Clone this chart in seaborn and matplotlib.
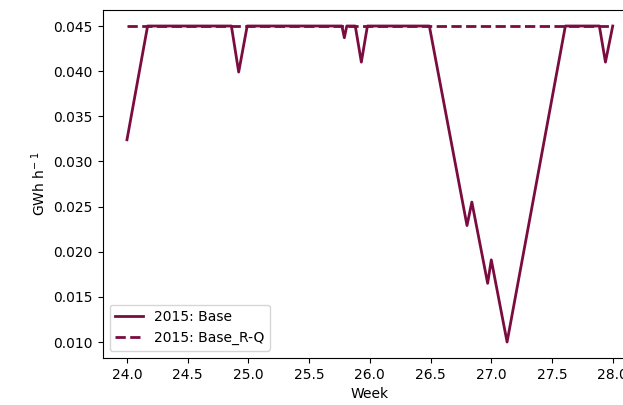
import matplotlib
matplotlib.use("Agg")
import matplotlib.pyplot as plt
import seaborn as sns
import pandas as pd

# Weekly position (fractional week) and hourly power for the base scenario
base_week = [24.00, 24.17, 24.86, 24.92, 24.99, 25.77, 25.79, 25.81, 25.88, 25.93,
             25.98, 26.49, 26.80, 26.84, 26.97, 27.00, 27.13, 27.61, 27.89, 27.94, 28.00]
base_gwh = [0.0324, 0.045, 0.045, 0.0399, 0.045, 0.045, 0.0437, 0.045, 0.045, 0.041,
            0.045, 0.045, 0.0229, 0.0255, 0.0165, 0.0191, 0.0100, 0.045, 0.045, 0.041, 0.045]

# Reserve-quota scenario stays at the cap over the whole period
rq_week = [24.0, 28.0]
rq_gwh = [0.045, 0.045]

color = "#7a0c3f"

base = pd.DataFrame({"Week": base_week, "value": base_gwh})
rq = pd.DataFrame({"Week": rq_week, "value": rq_gwh})

fig = plt.figure(figsize=(6.23, 4.05), dpi=100)
ax = fig.add_axes([0.1648, 0.1165, 0.8577, 0.8583])

sns.lineplot(data=rq, x="Week", y="value", ax=ax, color=color, linewidth=2,
             linestyle="--", label="2015: Base_R-Q")
sns.lineplot(data=base, x="Week", y="value", ax=ax, color=color, linewidth=2,
             label="2015: Base")

ax.set_xlim(23.8, 28.2)
ax.set_ylim(0.00825, 0.04675)
ax.set_xticks([24.0, 24.5, 25.0, 25.5, 26.0, 26.5, 27.0, 27.5, 28.0])
ax.set_yticks([0.010, 0.015, 0.020, 0.025, 0.030, 0.035, 0.040, 0.045])
ax.set_xlabel("Week")
ax.set_ylabel("GWh h$^{-\\;1}$")

handles, labels = ax.get_legend_handles_labels()
ax.legend(handles[::-1], labels[::-1], loc="lower left")

fig.savefig("out.png", dpi=100)
